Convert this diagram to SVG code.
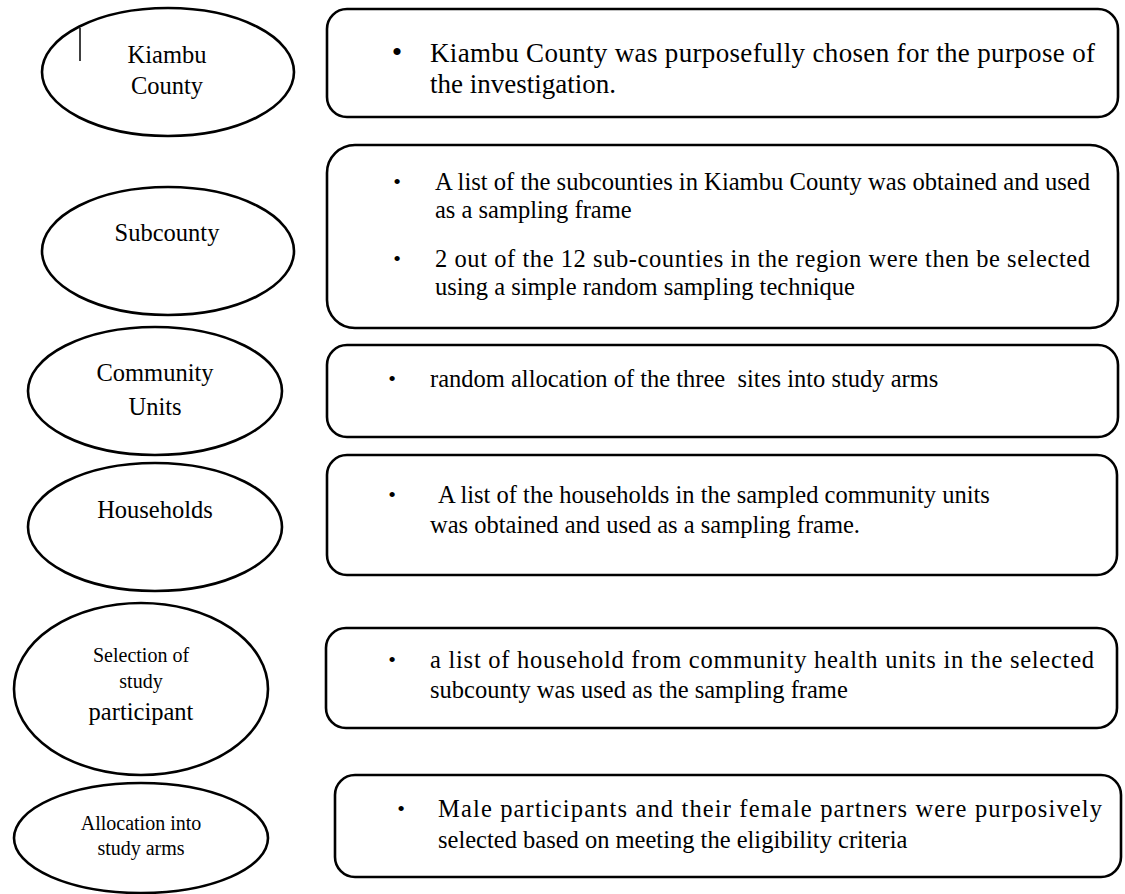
<svg xmlns="http://www.w3.org/2000/svg" width="1125" height="894" viewBox="0 0 1125 894" font-family="Liberation Serif">
<style>
.ell{fill:#ffffff;stroke:#000;stroke-width:2.6}
.box{fill:#ffffff;stroke:#000;stroke-width:2.6}
.lbl{font-size:24.5px;text-anchor:middle}
.sm{font-size:20px;text-anchor:middle}
.t{font-size:24.5px}
.t1{font-size:27px}
.bul{font-size:22px;text-anchor:middle}
.bul1{font-size:30px;text-anchor:middle}
</style>
<rect x="0" y="0" width="1125" height="894" fill="#ffffff"/>

<g id="connectors"></g>

<g id="node-kiambu">
<ellipse class="ell" cx="168" cy="72" rx="126" ry="64"/>
<line x1="80" y1="28" x2="80" y2="61" stroke="#000" stroke-width="1.5"/>
<text class="lbl" font-family="Liberation Serif" x="167" y="63">Kiambu</text>
<text class="lbl" font-family="Liberation Serif" x="167" y="94">County</text>
</g>

<g id="node-subcounty">
<ellipse class="ell" cx="168" cy="251" rx="126" ry="64"/>
<text class="lbl" font-family="Liberation Serif" x="167" y="241">Subcounty</text>
</g>

<g id="node-community">
<ellipse class="ell" cx="155" cy="391" rx="127" ry="64"/>
<text class="lbl" font-family="Liberation Serif" x="155" y="381">Community</text>
<text class="lbl" font-family="Liberation Serif" x="155" y="415">Units</text>
</g>

<g id="node-households">
<ellipse class="ell" cx="155" cy="527" rx="127" ry="64"/>
<text class="lbl" font-family="Liberation Serif" x="155" y="518">Households</text>
</g>

<g id="node-selection">
<ellipse class="ell" cx="141" cy="689" rx="127" ry="86"/>
<text class="sm" font-family="Liberation Serif" x="141" y="662">Selection of</text>
<text class="sm" font-family="Liberation Serif" x="141" y="688">study</text>
<text class="lbl" font-family="Liberation Serif" x="141" y="720">participant</text>
</g>

<g id="node-allocation">
<ellipse class="ell" cx="141" cy="838" rx="127" ry="55"/>
<text class="sm" font-family="Liberation Serif" x="141" y="830">Allocation into</text>
<text class="sm" font-family="Liberation Serif" x="141" y="855">study arms</text>
</g>

<g id="box-kiambu">
<rect class="box" x="327" y="9" width="791" height="108" rx="20" ry="20"/>
<text class="bul1" font-family="Liberation Serif" x="397" y="62">•</text>
<text class="t1" font-family="Liberation Serif" x="430" y="62" textLength="665" lengthAdjust="spacing">Kiambu County was purposefully chosen for the purpose of</text>
<text class="t1" font-family="Liberation Serif" x="430" y="93">the investigation.</text>
</g>

<g id="box-subcounty">
<rect class="box" x="327" y="145" width="791" height="183" rx="28" ry="28"/>
<text class="bul" font-family="Liberation Serif" x="397" y="189">•</text>
<text class="t" font-family="Liberation Serif" x="435" y="190" textLength="655" lengthAdjust="spacingAndGlyphs">A list of the subcounties in Kiambu County was obtained and used</text>
<text class="t" font-family="Liberation Serif" x="435" y="218">as a sampling frame</text>
<text class="bul" font-family="Liberation Serif" x="397" y="266">•</text>
<text class="t" font-family="Liberation Serif" x="435" y="267" textLength="655" lengthAdjust="spacing">2 out of the 12 sub-counties in the region were then be selected</text>
<text class="t" font-family="Liberation Serif" x="435" y="295">using a simple random sampling technique</text>
</g>

<g id="box-community">
<rect class="box" x="327" y="345" width="791" height="92" rx="20" ry="20"/>
<text class="bul" font-family="Liberation Serif" x="392" y="386">•</text>
<text class="t" font-family="Liberation Serif" x="430" y="387" xml:space="preserve">random allocation of the three  sites into study arms</text>
</g>

<g id="box-households">
<rect class="box" x="327" y="455" width="790" height="120" rx="20" ry="20"/>
<text class="bul" font-family="Liberation Serif" x="392" y="502">•</text>
<text class="t" font-family="Liberation Serif" x="438" y="503">A list of the households in the sampled community units</text>
<text class="t" font-family="Liberation Serif" x="430" y="533">was obtained and used as a sampling frame.</text>
</g>

<g id="box-selection">
<rect class="box" x="326" y="628" width="791" height="100" rx="20" ry="20"/>
<text class="bul" font-family="Liberation Serif" x="392" y="667">•</text>
<text class="t" font-family="Liberation Serif" x="430" y="668" textLength="664" lengthAdjust="spacing">a list of household from community health units in the selected</text>
<text class="t" font-family="Liberation Serif" x="430" y="698">subcounty was used as the sampling frame</text>
</g>

<g id="box-allocation">
<rect class="box" x="335" y="775" width="786" height="102" rx="20" ry="20"/>
<text class="bul" font-family="Liberation Serif" x="401" y="816">•</text>
<text class="t" font-family="Liberation Serif" x="438" y="817" textLength="664" lengthAdjust="spacing">Male participants and their female partners were purposively</text>
<text class="t" font-family="Liberation Serif" x="438" y="848">selected based on meeting the eligibility criteria</text>
</g>
</svg>
